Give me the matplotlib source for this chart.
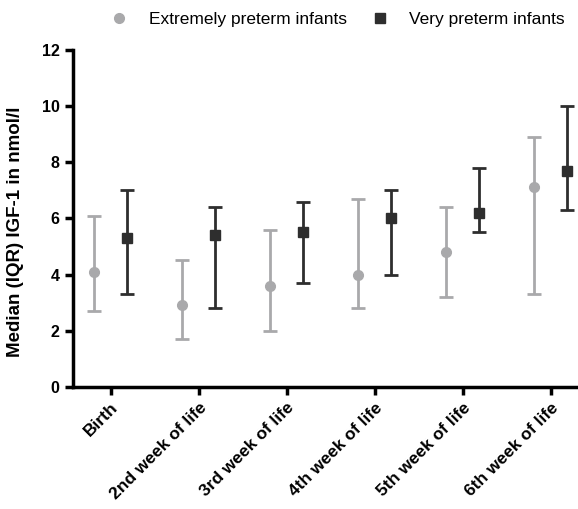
import numpy as np
import matplotlib
matplotlib.use('Agg')
import matplotlib.pyplot as plt
import matplotlib.transforms as mtransforms

plt.rcParams['font.family'] = ['Liberation Sans', 'DejaVu Sans']

# Data
timepoints = ['Birth', '2nd week of life', '3rd week of life',
              '4th week of life', '5th week of life', '6th week of life']

extreme_median = [4.1, 2.9, 3.6, 4.0, 4.8, 7.1]
extreme_q1 = [2.7, 1.7, 2.0, 2.8, 3.2, 3.3]
extreme_q3 = [6.1, 4.5, 5.6, 6.7, 6.4, 8.9]

very_median = [5.3, 5.4, 5.5, 6.0, 6.2, 7.7]
very_q1 = [3.3, 2.8, 3.7, 4.0, 5.5, 6.3]
very_q3 = [7.0, 6.4, 6.6, 7.0, 7.8, 10.0]

gray = '#a9a9ab'
dark = '#2e2e2e'

fig = plt.figure(figsize=(5.78, 5.09), dpi=100)
ax = fig.add_axes([0.126, 0.24, 0.874, 0.662])

x = np.arange(len(timepoints))
off = 0.19

# Extremely preterm
em = np.array(extreme_median)
ax.errorbar(x - off, em,
            yerr=[em - np.array(extreme_q1), np.array(extreme_q3) - em],
            fmt='o', color=gray, ecolor=gray, markersize=7,
            elinewidth=2, capsize=5, capthick=2,
            label='Extremely preterm infants')

# Very preterm
vm = np.array(very_median)
ax.errorbar(x + off, vm,
            yerr=[vm - np.array(very_q1), np.array(very_q3) - vm],
            fmt='s', color=dark, ecolor=dark, markersize=7,
            elinewidth=2, capsize=5, capthick=2,
            label='Very preterm infants')

ax.set_ylim(0, 12)
ax.set_xlim(-0.43, 5.31)
ax.set_yticks([0, 2, 4, 6, 8, 10, 12])
ax.set_xticks(x)
ax.set_xticklabels(timepoints, rotation=45, ha='right',
                   rotation_mode='anchor', fontweight='bold', fontsize=12.5)
shift = mtransforms.ScaledTranslation(5 / 100, 0, fig.dpi_scale_trans)
for lab in ax.get_xticklabels():
    lab.set_transform(lab.get_transform() + shift)
for lab in ax.get_yticklabels():
    lab.set_fontweight('bold')
    lab.set_fontsize(11.5)

ax.set_ylabel('Median (IQR) IGF-1 in nmol/l', fontweight='bold', fontsize=13.5)
ax.yaxis.set_label_coords(-0.097, 0.46)

ax.spines['top'].set_visible(False)
ax.spines['right'].set_visible(False)
ax.spines['left'].set_linewidth(2.5)
ax.spines['bottom'].set_linewidth(2.5)
ax.tick_params(axis='both', width=2.5, length=6, direction='out')

labels = ['Extremely preterm infants', 'Very preterm infants']
fig.legend([plt.Line2D([], [], ls='', marker='o', color=gray, markersize=7),
            plt.Line2D([], [], ls='', marker='s', color=dark, markersize=7)],
           labels, loc='center', bbox_to_anchor=(0.577, 0.961), ncol=2,
           frameon=False, fontsize=12.5, handletextpad=0.7, columnspacing=0.9)

fig.savefig('out.png', dpi=100)
